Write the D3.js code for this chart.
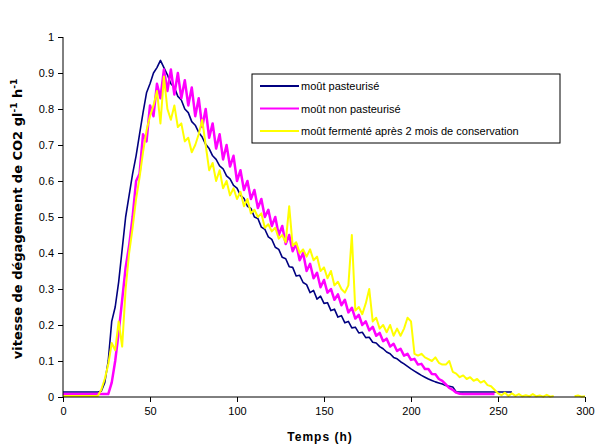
<!DOCTYPE html>
<html>
<head>
<meta charset="utf-8">
<script src="https://cdn.jsdelivr.net/npm/d3@7"></script>
<style>
  body { margin: 0; background: #fff; }
  text { font-family: "Liberation Sans", Arial, sans-serif; }
</style>
</head>
<body>
<div id="chart"></div>
<script>
const w = 598;
const h = 447;

const margin = { top: 37, right: 13, bottom: 50, left: 63 };
const width = w - margin.left - margin.right;
const height = h - margin.top - margin.bottom;

// time in hours, one reading every 2 h
const hours = d3.range(0, 301, 2);

// moût pasteurisé
const pasteurise = [
  0.014, 0.014, 0.014, 0.014, 0.014, 0.014, 0.014, 0.014, 0.014, 0.014,
  0.014, 0.016, 0.04, 0.1, 0.21, 0.25, 0.32, 0.41, 0.5, 0.56,
  0.62, 0.67, 0.73, 0.79, 0.845, 0.87, 0.9, 0.915, 0.935, 0.915,
  0.895, 0.87, 0.86, 0.835, 0.825, 0.8, 0.79, 0.765, 0.755, 0.735,
  0.722, 0.702, 0.69, 0.67, 0.66, 0.642, 0.634, 0.614, 0.606, 0.588,
  0.58, 0.56, 0.552, 0.53, 0.524, 0.5, 0.496, 0.472, 0.466, 0.445,
  0.438, 0.416, 0.41, 0.388, 0.384, 0.362, 0.36, 0.336, 0.338, 0.318,
  0.312, 0.29, 0.296, 0.272, 0.28, 0.26, 0.262, 0.24, 0.244, 0.222,
  0.226, 0.206, 0.21, 0.192, 0.194, 0.178, 0.18, 0.165, 0.166, 0.152,
  0.15, 0.14, 0.134, 0.125, 0.12, 0.11, 0.106, 0.098, 0.092, 0.085,
  0.078, 0.072, 0.066, 0.06, 0.055, 0.05, 0.046, 0.042, 0.039, 0.036,
  0.032, 0.03, 0.028, 0.014, 0.014, 0.014, 0.014, 0.014, 0.014, 0.014,
  0.014, 0.014, 0.014, 0.014, 0.014, 0.014, 0.014, 0.014, 0.014, 0.014,
  null, null, null, null, null, null, null, null, null, null,
  null, null, null, null, null, null, null, null, null, null,
  null
];

// moût non pasteurisé
const nonPasteurise = [
  0.008, 0.008, 0.008, 0.008, 0.008, 0.008, 0.008, 0.008, 0.008, 0.008,
  0.008, 0.008, 0.008, 0.008, 0.04, 0.1, 0.18, 0.27, 0.36, 0.42,
  0.5, 0.6, 0.62, 0.73, 0.71, 0.81, 0.78, 0.87, 0.83, 0.91,
  0.85, 0.91, 0.84, 0.9, 0.83, 0.88, 0.81, 0.86, 0.78, 0.83,
  0.75, 0.8, 0.72, 0.76, 0.69, 0.73, 0.66, 0.7, 0.64, 0.67,
  0.6, 0.63, 0.575, 0.6, 0.55, 0.575, 0.525, 0.55, 0.5, 0.52,
  0.475, 0.5, 0.45, 0.475, 0.425, 0.45, 0.405, 0.425, 0.38, 0.4,
  0.35, 0.37, 0.33, 0.345, 0.305, 0.325, 0.29, 0.3, 0.27, 0.285,
  0.255, 0.27, 0.235, 0.248, 0.218, 0.228, 0.2, 0.21, 0.185, 0.195,
  0.17, 0.178, 0.155, 0.162, 0.14, 0.148, 0.128, 0.134, 0.115, 0.12,
  0.103, 0.106, 0.09, 0.092, 0.078, 0.078, 0.064, 0.063, 0.05, 0.045,
  0.035, 0.025, 0.02, 0.012, 0.009, 0.008, 0.008, 0.008, 0.008, 0.008,
  0.008, 0.008, 0.008, 0.008, 0.008, null, null, null, null, null,
  null, null, null, null, null, null, null, null, null, null,
  null, null, null, null, null, null, null, null, null, null,
  null
];

// moût fermenté après 2 mois de conservation
const fermente = [
  0.003, 0.003, 0.003, 0.003, 0.003, 0.003, 0.003, 0.003, 0.003, 0.003,
  0.003, 0.02, 0.05, 0.09, 0.15, 0.13, 0.21, 0.14, 0.3, 0.4,
  0.47, 0.55, 0.61, 0.68, 0.74, 0.78, 0.81, 0.85, 0.76, 0.89,
  0.8, 0.77, 0.81, 0.75, 0.76, 0.71, 0.72, 0.68, 0.7, 0.73,
  0.77, 0.7, 0.63, 0.65, 0.6, 0.63, 0.58, 0.6, 0.56, 0.58,
  0.55, 0.57, 0.53, 0.55, 0.51, 0.52, 0.5, 0.51, 0.47, 0.48,
  0.46, 0.47, 0.44, 0.45, 0.43, 0.53, 0.42, 0.43, 0.4, 0.41,
  0.39, 0.41, 0.38, 0.39, 0.35, 0.36, 0.33, 0.35, 0.31, 0.32,
  0.3, 0.29, 0.31, 0.45, 0.24, 0.25, 0.23, 0.26, 0.3, 0.21,
  0.22, 0.19, 0.2, 0.18, 0.2, 0.17, 0.19, 0.17, 0.19, 0.22,
  0.21, 0.12, 0.115, 0.12, 0.11, 0.105, 0.1, 0.11, 0.095, 0.09,
  0.09, 0.1, 0.07, 0.065, 0.055, 0.06, 0.05, 0.055, 0.045, 0.05,
  0.04, 0.045, 0.033, 0.03, 0.02, 0.01, 0.005, 0.012, 0.003, 0.01,
  0.003, 0.008, 0.002, 0.005, 0.002, 0.008, 0.002, 0.004, 0.001, 0.006,
  0.001, 0.003, null, null, null, null, null, 0.002, 0.004, 0.001,
  0.002
];

const seriesNames = [
  "moût pasteurisé",
  "moût non pasteurisé",
  "moût fermenté après 2 mois de conservation"
];
const seriesColors = ["#000080", "#ff00ff", "#ffff00"];
const seriesWidths = [1.6, 2.5, 2];

const xTicks = [0, 50, 100, 150, 200, 250, 300];
const yTicks = [0, 0.1, 0.2, 0.3, 0.4, 0.5, 0.6, 0.7, 0.8, 0.9, 1];

const svg = d3.select("#chart")
    .append("svg")
    .attr("width", w)
    .attr("height", h);

const g = svg.append("g")
    .attr("transform", "translate(" + margin.left + "," + margin.top + ")");

const x = d3.scaleLinear().domain([0, 300]).range([0, width]);
const y = d3.scaleLinear().domain([0, 1]).range([height, 0]);

// lines
const allSeries = [pasteurise, nonPasteurise, fermente];

const line = d3.line()
    .defined(d => d[1] !== null)
    .x(d => x(d[0]))
    .y(d => y(d[1]));

allSeries.forEach((vals, i) => {
    g.append("path")
        .datum(hours.map((t, j) => [t, vals[j]]))
        .attr("fill", "none")
        .attr("stroke", seriesColors[i])
        .attr("stroke-width", seriesWidths[i])
        .attr("stroke-linejoin", "round")
        .attr("d", line);
});

// axes
const xAxis = g.append("g")
    .attr("transform", "translate(0," + height + ")")
    .call(d3.axisBottom(x).tickValues(xTicks).tickSize(5).tickPadding(5).tickFormat(d3.format("d")));

const yAxis = g.append("g")
    .call(d3.axisLeft(y).tickValues(yTicks).tickSize(5).tickPadding(4).tickFormat(d => d === 0 || d === 1 ? d : d3.format(".1f")(d)));

[xAxis, yAxis].forEach(a => {
    a.select(".domain").attr("stroke", "#000").attr("stroke-width", 1);
    a.selectAll(".tick line").attr("stroke", "#000");
    a.selectAll(".tick text")
        .attr("fill", "#000")
        .style("font-family", "'Liberation Sans', Arial, sans-serif")
        .style("font-size", "11px");
});
yAxis.select(".domain").attr("d", "M0," + height + "V0");
xAxis.select(".domain").attr("d", "M0,0H" + width);

// axis titles
svg.append("text")
    .attr("x", margin.left + width / 2 - 4)
    .attr("y", 441)
    .attr("text-anchor", "middle")
    .style("font-size", "12px")
    .style("font-weight", "bold")
    .style("letter-spacing", "1px")
    .text("Temps (h)");

const yTitle = svg.append("text")
    .attr("transform", "translate(22,219) rotate(-90)")
    .attr("text-anchor", "middle")
    .style("font-family", "'DejaVu Sans', sans-serif")
    .style("font-size", "13px")
    .style("font-weight", "bold");
yTitle.append("tspan").text("vitesse de dégagement de CO2 gl");
yTitle.append("tspan").attr("dy", -5).style("font-size", "9px").text("-1");
yTitle.append("tspan").attr("dy", 5).text(" h");
yTitle.append("tspan").attr("dy", -5).style("font-size", "9px").text("-1");

// legend
const legend = svg.append("g").attr("transform", "translate(252,74)");
legend.append("rect")
    .attr("width", 308)
    .attr("height", 69)
    .attr("fill", "#fff")
    .attr("stroke", "#000")
    .attr("stroke-width", 1);

seriesNames.forEach((name, i) => {
    const row = legend.append("g").attr("transform", "translate(0," + (12 + i * 22.5) + ")");
    row.append("line")
        .attr("x1", 8).attr("x2", 47)
        .attr("y1", 0).attr("y2", 0)
        .attr("stroke", seriesColors[i])
        .attr("stroke-width", 2);
    row.append("text")
        .attr("x", 49)
        .attr("y", 4)
        .style("font-size", "11px")
        .text(name);
});
</script>
</body>
</html>
